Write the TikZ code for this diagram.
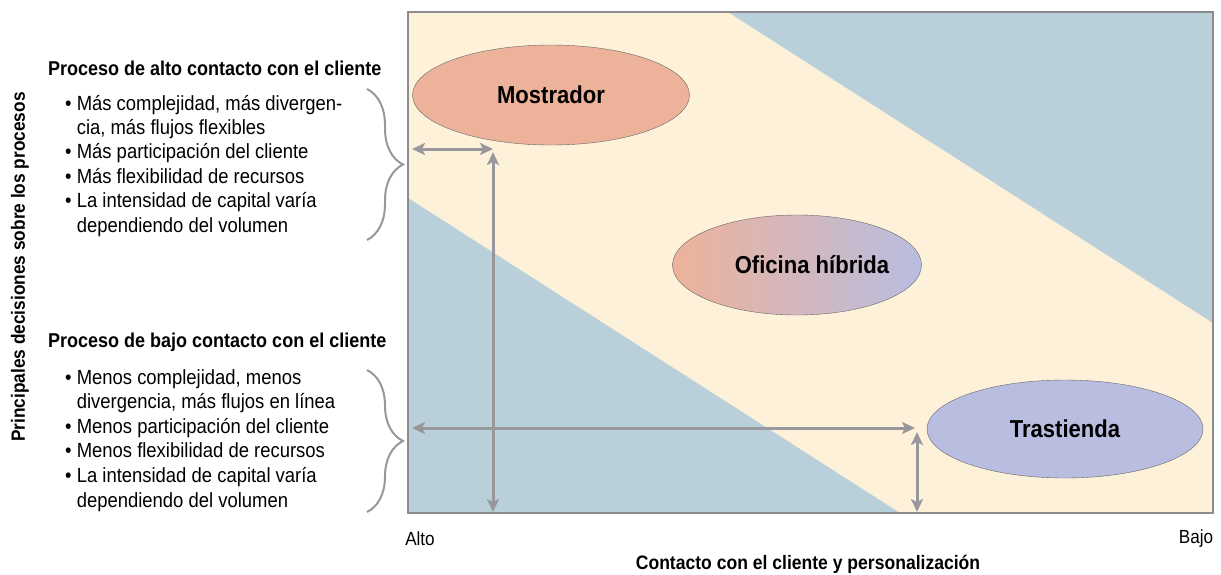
\documentclass[tikz,border=0pt]{standalone}
\usepackage{fontspec}
\setmainfont{Liberation Sans}[FakeStretch=0.9]
\usepackage{xcolor}
\usepackage{tikz}
\usetikzlibrary{shapes.geometric, arrows.meta}
\usetikzlibrary{calc,positioning,decorations.pathreplacing}

\definecolor{crema}{RGB}{253,241,218}
\definecolor{azulgris}{RGB}{185,208,219}
\definecolor{salmon}{RGB}{237,178,154}
\definecolor{lila}{RGB}{185,189,224}
\definecolor{flecha}{RGB}{152,152,156}
\definecolor{marco}{RGB}{140,140,140}

\tikzset{
  zona/.style={ellipse, draw=black!60, thin, inner sep=0pt,
    font=\fontsize{24.5}{26}\selectfont\bfseries},
  dflecha/.style={{Stealth[length=13pt,width=12pt,inset=3pt]}-{Stealth[length=13pt,width=12pt,inset=3pt]},
    line width=3pt, draw=flecha},
  llave/.style={decorate, decoration={brace, amplitude=36pt}, draw=flecha, line width=2pt},
  titulo/.style={anchor=base west, inner sep=0pt, font=\fontsize{20}{22}\selectfont\bfseries},
  lista/.style={anchor=base west, inner sep=0pt, font=\fontsize{20.5}{24}\selectfont},
  rotulo/.style={font=\fontsize{19}{21}\selectfont}
}

\begin{document}
\begin{tikzpicture}[x=1pt, y=-1pt]

    \useasboundingbox (0,0) rectangle (1221,574);

    % Fondo de la matriz
    \fill[crema] (408,12) rectangle (1213,513);
    \fill[azulgris] (728,12) -- (1213,12) -- (1213,323) -- cycle;
    \fill[azulgris] (408,198) -- (900,513) -- (408,513) -- cycle;
    \draw[marco, line width=1.5pt] (408,12) rectangle (1213,513);

    % Zonas
    \node[zona, fill=salmon, minimum width=277pt, minimum height=100pt]
      (mostrador) at (551,95) {Mostrador};
    \node[zona, left color=salmon, right color=lila, minimum width=249pt, minimum height=100pt]
      (oficina) at (797,265) {\makebox[0pt]{\hspace{30pt}Oficina híbrida}};
    \node[zona, fill=lila, minimum width=276pt, minimum height=98pt]
      (trastienda) at (1065,429) {Trastienda};

    % Extremos de las flechas
    \coordinate (altoIzq) at (412,149);
    \coordinate (altoEsq) at (493,149);
    \coordinate (altoArr) at (493,152);
    \coordinate (altoAbj) at (493,512);
    \coordinate (bajoIzq) at (412,428);
    \coordinate (bajoEsq) at (915,428);
    \coordinate (bajoArr) at (917,432);
    \coordinate (bajoAbj) at (917,512);

    \draw[dflecha] (altoIzq) -- (altoEsq);
    \draw[dflecha] (altoArr) -- (altoAbj);
    \draw[dflecha] (bajoIzq) -- (bajoEsq);
    \draw[dflecha] (bajoArr) -- (bajoAbj);

    % Llaves
    \coordinate (llaveA1) at (367,89);
    \coordinate (llaveA2) at (367,240);
    \coordinate (llaveB1) at (367,370);
    \coordinate (llaveB2) at (367,512);
    \draw[llave] (llaveA1) -- (llaveA2);
    \draw[llave] (llaveB1) -- (llaveB2);

    % Alto contacto
    \node[titulo] (altoTit) at (48,75) {Proceso de alto contacto con el cliente};
    \foreach \linea [count=\i from 0] in {
        {\textbullet\ Más complejidad, más divergen-},
        {\hphantom{\textbullet\ }cia, más flujos flexibles},
        {\textbullet\ Más participación del cliente},
        {\textbullet\ Más flexibilidad de recursos},
        {\textbullet\ La intensidad de capital varía},
        {\hphantom{\textbullet\ }dependiendo del volumen}} {
        \node[lista] (alto\i) at (65,110+24.4*\i) {\linea};
    }

    % Bajo contacto
    \node[titulo] (bajoTit) at (48,347) {Proceso de bajo contacto con el cliente};
    \foreach \linea [count=\i from 0] in {
        {\textbullet\ Menos complejidad, menos},
        {\hphantom{\textbullet\ }divergencia, más flujos en línea},
        {\textbullet\ Menos participación del cliente},
        {\textbullet\ Menos flexibilidad de recursos},
        {\textbullet\ La intensidad de capital varía},
        {\hphantom{\textbullet\ }dependiendo del volumen}} {
        \node[lista] (bajo\i) at (65,384+24.6*\i) {\linea};
    }

    % Ejes
    \node[rotate=90, font=\fontsize{19.2}{21}\selectfont\bfseries] (ejeY) at (20,267)
      {Principales decisiones sobre los procesos};
    \node[rotulo] (alto) at (420,539) {Alto};
    \node[rotulo] (bajo) at (1196,539) {Bajo};
    \node[font=\fontsize{19.5}{21}\selectfont\bfseries] (ejeX) at (808,564)
      {Contacto con el cliente y personalización};

\end{tikzpicture}
\end{document}
